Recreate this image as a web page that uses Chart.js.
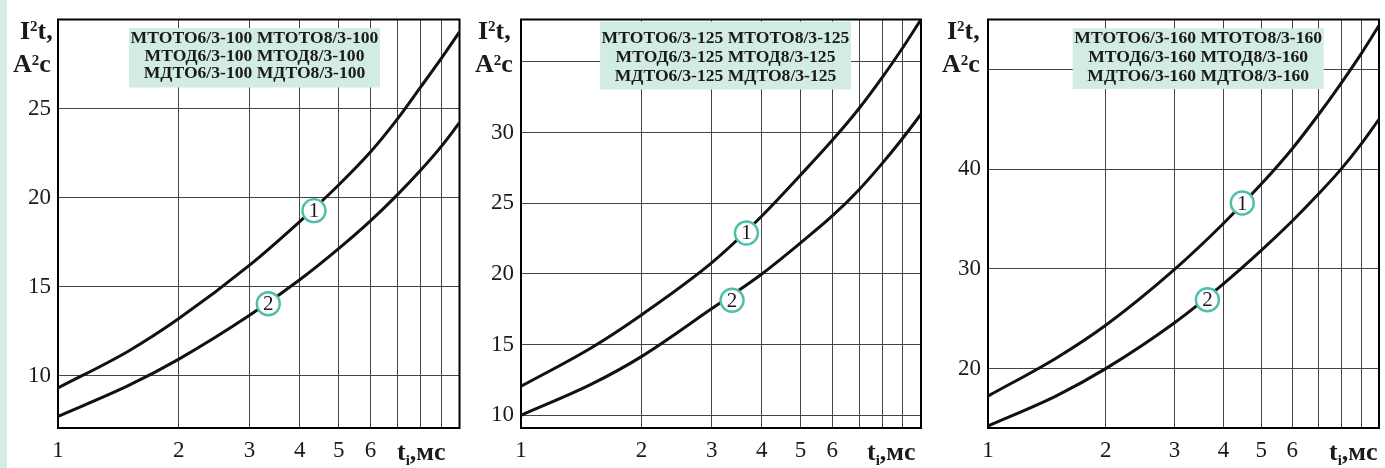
<!DOCTYPE html>
<html>
<head>
<meta charset="utf-8">
<script src="https://cdn.jsdelivr.net/npm/chart.js@4.4.1/dist/chart.umd.min.js"></script>
<style>
  html, body { margin: 0; padding: 0; background: #fff; }
  #wrap { position: relative; width: 1385px; height: 468px; overflow: hidden; background: #fff; }
  #strip { position: absolute; left: 0; top: 0; width: 7px; height: 468px; background: #d3ece5; }
  .panel { position: absolute; top: 0; height: 468px; }
  .panel canvas { display: block; }
</style>
</head>
<body>
<div id="wrap"><div id="strip"></div></div>
<script>
// Sample times, ms (logarithmic axis)
const tPoints = [1, 1.5, 2, 3, 4, 5, 6, 7, 8, 9, 10];
const xTickValues = [1, 2, 3, 4, 5, 6, 7, 8, 9, 10];
const xTickLabels = ['1', '2', '3', '4', '5', '6', '', '', '', ''];

// I²t, A²s — curve 1 and curve 2 for each fuse rating
const curve1_100 = [9.3, 11.38, 13.2, 16.2, 18.65, 20.7, 22.55, 24.4, 26.2, 27.8, 29.3];
const curve2_100 = [7.7, 9.44, 10.92, 13.38, 15.38, 17.13, 18.69, 20.15, 21.53, 22.86, 24.2];
const curve1_125 = [12.05, 14.78, 17.1, 20.8, 24.1, 27.0, 29.45, 31.7, 33.9, 36.0, 38.0];
const curve2_125 = [10.0, 12.2, 14.15, 17.55, 20.0, 22.2, 24.1, 25.96, 27.82, 29.6, 31.3];
const curve1_160 = [17.25, 21.1, 24.35, 29.95, 34.55, 38.5, 42.05, 45.45, 48.6, 51.55, 54.4];
const curve2_160 = [14.25, 17.3, 20.0, 24.6, 28.5, 31.85, 34.8, 37.5, 40.0, 42.5, 45.0];

// Vertical axis ticks
const yTicks_100 = [10, 15, 20, 25, 30];
const yTickLabels_100 = ['10', '15', '20', '25', ''];
const yTicks_125 = [10, 15, 20, 25, 30, 35];
const yTickLabels_125 = ['10', '15', '20', '25', '30', ''];
const yTicks_160 = [20, 30, 40, 50];
const yTickLabels_160 = ['20', '30', '40', ''];

// Curve number markers
const markerLabels = ['1', '2'];
const markerT_100 = [4.34, 3.34];
const markerV_100 = [19.26, 14.03];
const markerT_125 = [3.66, 3.37];
const markerV_125 = [22.9, 18.14];
const markerT_160 = [4.47, 3.64];
const markerV_160 = [36.6, 26.9];

// Fuse types covered by each panel
const types_100 = ['МТОТО6/3-100 МТОТО8/3-100', 'МТОД6/3-100 МТОД8/3-100', 'МДТО6/3-100 МДТО8/3-100'];
const types_125 = ['МТОТО6/3-125 МТОТО8/3-125', 'МТОД6/3-125 МТОД8/3-125', 'МДТО6/3-125 МДТО8/3-125'];
const types_160 = ['МТОТО6/3-160 МТОТО8/3-160', 'МТОД6/3-160 МТОД8/3-160', 'МДТО6/3-160 МДТО8/3-160'];

const SERIF = "'Liberation Serif', 'Times New Roman', serif";
const TEAL = '#4fbfa9';
const BOX = '#d2ebe4';
const INK = '#1a1a1a';
const GRID = '#444';

function points(xs, ys) {
  return xs.map((x, i) => ({ x: x, y: ys[i] }));
}

// Legend box, plot frame, axis titles and marker numbers
const decorPlugin = {
  id: 'decor',
  beforeDatasetsDraw(chart) {
    const ctx = chart.ctx, a = chart.chartArea;
    const p = chart.options.plugins.decor;
    ctx.save();
    // fuse type box
    const bx = a.left + p.boxX;
    ctx.fillStyle = BOX;
    ctx.fillRect(bx, p.boxTop, p.boxW, p.boxBottom - p.boxTop);
    ctx.fillStyle = INK;
    ctx.font = 'bold 17.6px ' + SERIF;
    ctx.textAlign = 'center';
    ctx.textBaseline = 'alphabetic';
    p.lines.forEach((s, i) => ctx.fillText(s, bx + p.boxW / 2, p.lineBase + i * p.lineStep));
    // frame
    ctx.strokeStyle = '#000';
    ctx.lineWidth = 2;
    ctx.strokeRect(a.left, a.top, a.right - a.left, a.bottom - a.top);
    ctx.restore();
  },
  afterDatasetsDraw(chart) {
    const ctx = chart.ctx;
    const meta = chart.getDatasetMeta(0);
    ctx.save();
    ctx.fillStyle = INK;
    ctx.font = '21px ' + SERIF;
    ctx.textAlign = 'center';
    ctx.textBaseline = 'middle';
    meta.data.forEach((el, i) => ctx.fillText(markerLabels[i], el.x, el.y + 1));
    ctx.restore();
  },
  afterDraw(chart) {
    const ctx = chart.ctx, a = chart.chartArea;
    const p = chart.options.plugins.decor;
    ctx.save();
    ctx.fillStyle = INK;
    ctx.textAlign = 'left';
    ctx.textBaseline = 'alphabetic';
    const big = 'bold 26px ' + SERIF, sup = 'bold 15px ' + SERIF;
    const run = (parts, x, y) => {
      parts.forEach(([txt, font, dy]) => {
        ctx.font = font;
        ctx.fillText(txt, x, y + dy);
        x += ctx.measureText(txt).width;
      });
    };
    run([['I', big, 0], ['2', sup, -8.5], ['t,', big, 0]], a.left + p.iX, 39);
    run([['А', big, 0], ['2', sup, -7], ['с', big, 0]], a.left + p.aX, 72);
    run([['t', big, 0], ['i', sup, 5], [',мс', big, 0]], a.left + p.tX, 460);
    ctx.restore();
  }
};

function makePanel(cfg) {
  const div = document.createElement('div');
  div.className = 'panel';
  div.style.left = cfg.canvasLeft + 'px';
  div.style.width = cfg.canvasWidth + 'px';
  const canvas = document.createElement('canvas');
  canvas.width = cfg.canvasWidth;
  canvas.height = 468;
  div.appendChild(canvas);
  document.getElementById('wrap').appendChild(div);

  const tickFont = { family: SERIF, size: 23 };

  new Chart(canvas, {
    type: 'scatter',
    data: {
      datasets: [
        {
          data: points(cfg.markerT, cfg.markerV),
          pointRadius: 11.5,
          pointBackgroundColor: '#fff',
          pointBorderColor: TEAL,
          pointBorderWidth: 2.4,
          order: 0
        },
        {
          data: points(tPoints, cfg.c1),
          showLine: true,
          borderColor: '#111',
          borderWidth: 3,
          pointRadius: 0,
          cubicInterpolationMode: 'monotone',
          order: 1
        },
        {
          data: points(tPoints, cfg.c2),
          showLine: true,
          borderColor: '#111',
          borderWidth: 3,
          pointRadius: 0,
          cubicInterpolationMode: 'monotone',
          order: 1
        }
      ]
    },
    options: {
      responsive: false,
      animation: false,
      events: [],
      layout: {
        autoPadding: false,
        padding: { left: 0, top: 19.5, right: cfg.canvasWidth - cfg.chartRight, bottom: 0 }
      },
      plugins: {
        legend: { display: false },
        tooltip: { enabled: false },
        decor: cfg.decor
      },
      scales: {
        x: {
          type: 'logarithmic',
          position: 'bottom',
          min: 1,
          max: 10,
          afterBuildTicks: s => { s.ticks = xTickValues.map(v => ({ value: v })); },
          afterFit: s => { s.height = 40; s.paddingLeft = 0; s.paddingRight = 0; },
          ticks: {
            autoSkip: false,
            maxRotation: 0,
            padding: 9,
            font: tickFont,
            color: INK,
            callback: (v, i) => xTickLabels[i]
          },
          grid: { color: GRID, lineWidth: 1, drawTicks: false },
          border: { display: false }
        },
        y: {
          type: 'linear',
          min: cfg.yMin,
          max: cfg.yMax,
          afterBuildTicks: s => { s.ticks = cfg.yTicks.map(v => ({ value: v })); },
          afterFit: s => { s.width = cfg.chartLeft; s.paddingTop = 0; s.paddingBottom = 0; },
          ticks: {
            padding: 7,
            font: tickFont,
            color: INK,
            callback: (v, i) => cfg.yLabels[i]
          },
          grid: { color: GRID, lineWidth: 1, drawTicks: false },
          border: { display: false }
        }
      }
    },
    plugins: [decorPlugin]
  });
}

makePanel({
  canvasLeft: 0, canvasWidth: 462, chartLeft: 58, chartRight: 459.5,
  yMin: 7.05, yMax: 30, yTicks: yTicks_100, yLabels: yTickLabels_100,
  c1: curve1_100, c2: curve2_100, markerT: markerT_100, markerV: markerV_100,
  decor: { lines: types_100, boxX: 71, boxW: 251, boxTop: 28, boxBottom: 87.5, lineBase: 42.7, lineStep: 17.8, iX: -38, aX: -45, tX: 339 }
});
makePanel({
  canvasLeft: 462, canvasWidth: 462, chartLeft: 59, chartRight: 459,
  yMin: 9.1, yMax: 38, yTicks: yTicks_125, yLabels: yTickLabels_125,
  c1: curve1_125, c2: curve2_125, markerT: markerT_125, markerV: markerV_125,
  decor: { lines: types_125, boxX: 79, boxW: 251, boxTop: 21.5, boxBottom: 89.5, lineBase: 43.3, lineStep: 18.85, iX: -43, aX: -46, tX: 346 }
});
makePanel({
  canvasLeft: 924, canvasWidth: 461, chartLeft: 64, chartRight: 455,
  yMin: 14.05, yMax: 55, yTicks: yTicks_160, yLabels: yTickLabels_160,
  c1: curve1_160, c2: curve2_160, markerT: markerT_160, markerV: markerV_160,
  decor: { lines: types_160, boxX: 84.7, boxW: 251, boxTop: 28.3, boxBottom: 89, lineBase: 43.3, lineStep: 18.85, iX: -41, aX: -46, tX: 341 }
});
</script>
</body>
</html>
